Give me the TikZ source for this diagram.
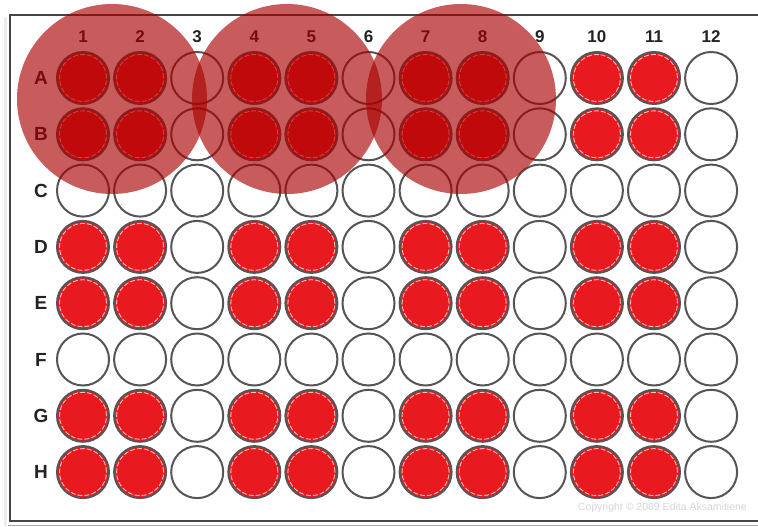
\documentclass[tikz,border=0pt]{standalone}
\usepackage{fontspec}
\setmainfont{Liberation Sans}
\definecolor{wellred}{RGB}{232,26,32}
\definecolor{wellgray}{RGB}{85,85,85}
\definecolor{ringpink}{RGB}{255,190,190}
\definecolor{shade}{RGB}{169,0,0}
\definecolor{labelc}{RGB}{35,35,35}
\definecolor{platec}{RGB}{70,70,70}
\begin{document}
\begin{tikzpicture}[x=1pt,y=-1pt,
  wellbase/.style={circle, draw=wellgray, line width=2pt, minimum size=52pt, inner sep=0pt},
  emptywell/.style={wellbase, fill=white},
  redwell/.style={wellbase, fill=wellred},
  ringline/.style={draw=ringpink, line width=0.9pt, dash pattern=on 5pt off 2pt},
  collabel/.style={font=\bfseries\fontsize{17}{18}\selectfont, text=labelc, inner sep=0pt},
  rowlabel/.style={font=\bfseries\fontsize{19}{20}\selectfont, text=labelc, inner sep=0pt},
  shadecircle/.style={fill=shade, fill opacity=0.64},
  copyr/.style={font=\fontsize{10.5}{12}\selectfont, text=black!16, inner sep=0pt, anchor=east}
]
\useasboundingbox (0,0) rectangle (758,527);
\fill[white] (0,0) rectangle (758,527);
% plate outline
\draw[black!7, line width=3pt] (5,17) -- (5,526);
\draw[black!35, line width=1.5pt] (8,525.5) -- (760,525.5);
\draw[platec, line width=2pt] (760,15) -- (10,15) -- (10,521) -- (760,521);
% column labels
\foreach \c in {1,...,12} {
  \node[collabel] (col\c) at ({83+57.1*(\c-1)},37) {\c};
}
% row labels and wells
\foreach \r/\rn in {A/0,B/1,C/2,D/3,E/4,F/5,G/6,H/7} {
  \node[rowlabel] (row\r) at (41,{78+56.3*\rn}) {\r};
  \foreach \c in {1,...,12} {
    \pgfmathtruncatemacro{\isred}{(\rn!=2 && \rn!=5 && mod(\c,3)!=0) ? 1 : 0}
    \ifnum\isred=1
      \node[redwell] (w\r\c) at ({83+57.1*(\c-1)},{78+56.3*\rn}) {};
      \draw[ringline] (w\r\c.center) circle (23.5pt);
    \else
      \node[emptywell] (w\r\c) at ({83+57.1*(\c-1)},{78+56.3*\rn}) {};
    \fi
  }
}
% translucent highlight circles
\fill[shadecircle] (112,99) circle (95pt);
\fill[shadecircle] (287,99) circle (95pt);
\fill[shadecircle] (461,99) circle (95pt);
% copyright
\node[copyr] (copy) at (747,508) {Copyright © 2009 Edita Aksamitiene};
\end{tikzpicture}
\end{document}
